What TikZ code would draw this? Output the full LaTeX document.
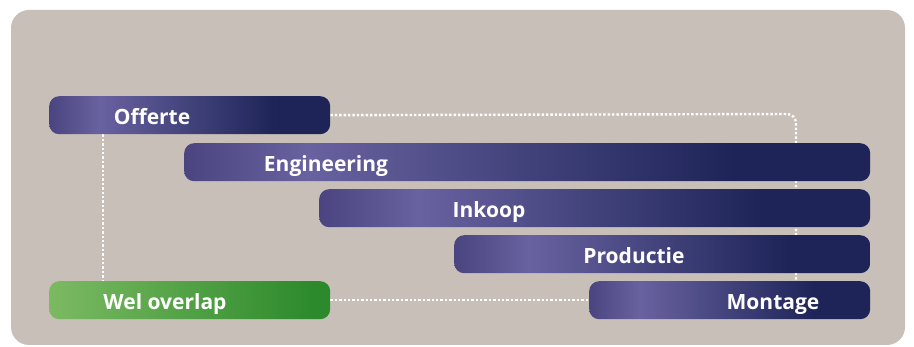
\documentclass[tikz,border=0pt]{standalone}
\usepackage{fontspec}
\setmainfont{Open Sans}
\usetikzlibrary{backgrounds}

\definecolor{barleft}{RGB}{74,68,128}
\definecolor{barlight}{RGB}{104,98,160}
\definecolor{bardark}{RGB}{30,36,88}
\definecolor{greenleft}{RGB}{124,186,98}
\definecolor{greenright}{RGB}{44,138,44}
\definecolor{backdrop}{RGB}{200,191,185}

\pgfdeclarehorizontalshading{barshade}{100bp}{color(0bp)=(barleft); color(25bp)=(barleft); color(34bp)=(barlight); color(65bp)=(bardark); color(100bp)=(bardark)}
\pgfdeclarehorizontalshading{greenshade}{100bp}{color(0bp)=(greenleft); color(25bp)=(greenleft); color(72bp)=(greenright); color(100bp)=(greenright)}

\begin{document}
\begin{tikzpicture}[x=1pt,y=-1pt,
        bar/.style={rounded corners=10pt,shading=barshade,minimum height=38pt,anchor=north west,inner sep=0pt},
        greenbar/.style={bar,shading=greenshade},
        bartext/.style={anchor=base,text=white,font=\fontsize{21}{24}\selectfont\bfseries},
        link/.style={white,line width=2.4pt,dash pattern=on 2.4pt off 2pt}]
        \useasboundingbox (0,0) rectangle (914,347);
        \node[bar,minimum width=281pt] (offerte) at (49,96) {};
        \node[bar,minimum width=686pt] (engineering) at (184,143) {};
        \node[bar,minimum width=551pt] (inkoop) at (319,189) {};
        \node[bar,minimum width=416pt] (productie) at (454,235) {};
        \node[bar,minimum width=281pt] (montage) at (589,281) {};
        \node[greenbar,minimum width=281pt] (wel) at (49,281) {};
        \node[bartext] (offerte-t) at (152,124.5) {Offerte};
        \node[bartext] (engineering-t) at (326,171.5) {Engineering};
        \node[bartext] (inkoop-t) at (489,217.5) {Inkoop};
        \node[bartext] (productie-t) at (634,263.5) {Productie};
        \node[bartext] (montage-t) at (773,309.5) {Montage};
        \node[bartext] (wel-t) at (165,309.5) {Wel overlap};
        \coordinate (corner) at (796,114);
        \coordinate (split) at (103,0);
        \begin{scope}[on background layer]
            \fill[backdrop,rounded corners=18pt] (11,10) rectangle (905,345);
            \draw[link,rounded corners=9pt] (offerte.east) -- (corner) -- (corner |- montage.north);
            \draw[link] (offerte.south -| split) -- (wel.north -| split);
            \draw[link] (wel.east) -- (montage.west);
        \end{scope}
\end{tikzpicture}
\end{document}
